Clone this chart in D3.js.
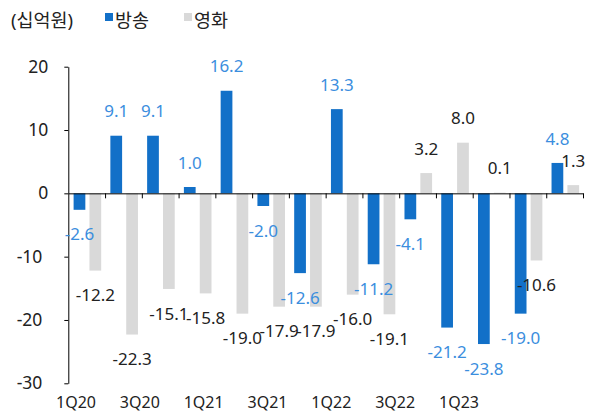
<!DOCTYPE html>
<html>
<head>
<meta charset="utf-8">
<script src="https://cdn.jsdelivr.net/npm/d3@7"></script>
<style>
  body { margin: 0; background: #fff; }
  text { font-family: "Noto Sans", "Noto Sans CJK KR", sans-serif; }
</style>
</head>
<body>
<script>
const quarters = ['1Q20', '2Q20', '3Q20', '4Q20', '1Q21', '2Q21', '3Q21', '4Q21',
                  '1Q22', '2Q22', '3Q22', '4Q22', '1Q23', '2Q23'];
const broadcast = [-2.6, 9.1, 9.1, 1.0, 16.2, -2.0, -12.6, 13.3, -11.2, -4.1, -21.2, -23.8, -19.0, 4.8];
const film = [-12.2, -22.3, -15.1, -15.8, -19.0, -17.9, -17.9, -16.0, -19.1, 3.2, 8.0, 0.1, -10.6, 1.3];
const seriesNames = ['방송', '영화'];
const tickLabels = ['1Q20', '3Q20', '1Q21', '3Q21', '1Q22', '3Q22', '1Q23'];
const yTicks = [-30, -20, -10, 0, 10, 20];
const unitLabel = '(십억원)';

const WIDTH = 601
const HEIGHT = 413
const BLUE = '#1270c8'
const BLUE_TEXT = '#3b8ede'
const GREY = '#d9d9d9'
const INK = '#222'

const svg = d3.select('body').append('svg').attr('width', WIDTH).attr('height', HEIGHT)

// échelles
const y = d3.scaleLinear().domain([-30, 20]).range([383.3, 66.7])
const x = d3.scaleBand().domain(quarters).range([68.3, 583]).padding(0)
const xs = d3.scaleBand().domain(seriesNames).range([5.3, 32.9]).paddingInner(0.26)
const xi = d3.scaleLinear().domain([0, quarters.length]).range(x.range())
const xl = d3.scalePoint().domain(tickLabels).range([76, 459])

const rows = quarters.map((q, i) => [
  { q, s: seriesNames[0], v: broadcast[i] },
  { q, s: seriesNames[1], v: film[i] }
]).flat()

const colour = d3.scaleOrdinal().domain(seriesNames).range([BLUE, GREY])
const textColour = d3.scaleOrdinal().domain(seriesNames).range([BLUE_TEXT, INK])

// barres
svg.selectAll('rect.bar')
  .data(rows)
  .enter()
  .append('rect')
  .attr('class', 'bar')
  .attr('x', d => x(d.q) + xs(d.s))
  .attr('width', xs.bandwidth())
  .attr('y', d => y(Math.max(0, d.v)))
  .attr('height', d => Math.abs(y(d.v) - y(0)))
  .attr('fill', d => colour(d.s))

// axe vertical
const yAxis = svg.append('g')
  .attr('transform', `translate(${x.range()[0]},0)`)
  .call(d3.axisLeft(y).tickValues(yTicks).tickSize(4).tickPadding(16).tickSizeOuter(0))
yAxis.select('.domain').attr('stroke', '#000')
yAxis.selectAll('.tick line').attr('stroke', '#000')
yAxis.selectAll('.tick text')
  .attr('font-size', 17.5)
  .attr('fill', INK)
  .attr('dx', d => d < 0 ? -6 : 0)
  .text(d => d < 0 ? '-' + Math.abs(d) : d)

// ligne du zéro avec graduations entre catégories
const xAxis = svg.append('g')
  .attr('transform', `translate(0,${y(0)})`)
  .call(d3.axisBottom(xi).tickValues(d3.range(1, quarters.length + 1)).tickSize(5).tickSizeOuter(0).tickFormat(''))
xAxis.select('.domain').attr('stroke', '#000')
xAxis.selectAll('.tick line').attr('stroke', '#000')

// étiquettes des trimestres
svg.selectAll('text.cat')
  .data(tickLabels)
  .enter()
  .append('text')
  .attr('class', 'cat')
  .attr('x', d => xl(d))
  .attr('y', 408)
  .attr('text-anchor', 'middle')
  .attr('font-size', 16)
  .attr('fill', INK)
  .text(d => d)

// étiquettes de valeurs
svg.selectAll('text.val')
  .data(rows)
  .enter()
  .append('text')
  .attr('class', 'val')
  .attr('x', d => x(d.q) + xs(d.s) + xs.bandwidth() / 2)
  .attr('y', d => d.v >= 0 ? y(d.v) - 24.5 : y(d.v) + 24.5)
  .attr('dy', '0.36em')
  .attr('text-anchor', 'middle')
  .attr('font-size', 17)
  .attr('fill', d => textColour(d.s))
  .text(d => d.v.toFixed(1))

// légende
svg.append('text')
  .attr('x', 11)
  .attr('y', 27)
  .attr('font-size', 18.5)
  .attr('font-family', '"Noto Sans CJK KR", sans-serif')
  .attr('fill', INK)
  .text(unitLabel)

const legendX = d3.scaleOrdinal().domain(seriesNames).range([105, 184])
const legend = svg.selectAll('g.leg')
  .data(seriesNames)
  .enter()
  .append('g')
  .attr('class', 'leg')
  .attr('transform', d => `translate(${legendX(d)},13)`)
legend.append('rect').attr('width', 8).attr('height', 8).attr('fill', d => colour(d))
legend.append('text')
  .attr('x', 10)
  .attr('y', 14)
  .attr('font-size', 18.5)
  .attr('font-family', '"Noto Sans CJK KR", sans-serif')
  .attr('fill', INK)
  .text(d => d)
</script>
</body>
</html>
